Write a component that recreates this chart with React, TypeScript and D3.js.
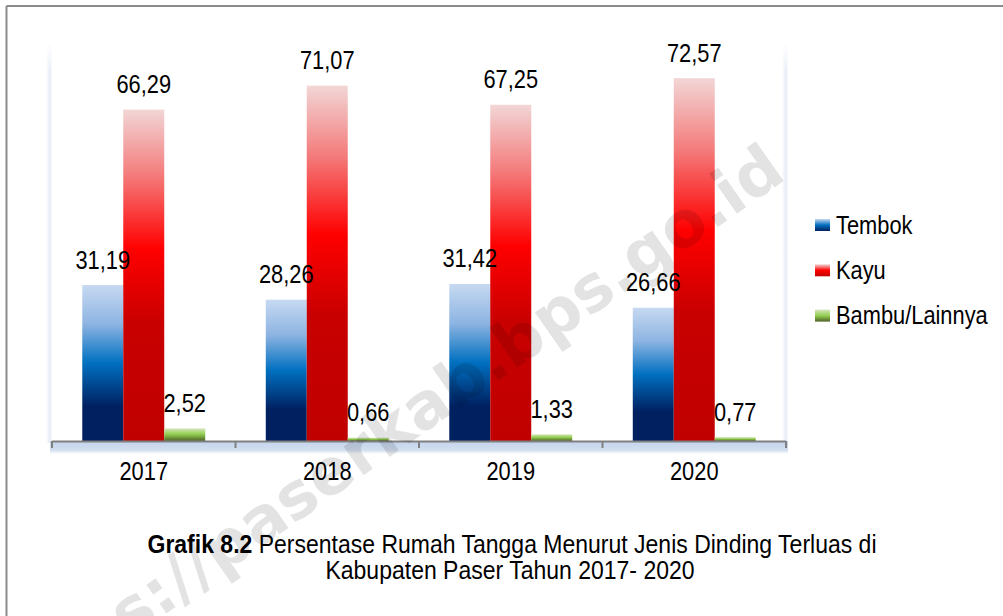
import React from 'react';
import * as d3 from 'd3';

const years = ['2017', '2018', '2019', '2020'];
const seriesNames = ['Tembok', 'Kayu', 'Bambu/Lainnya'];
const tembok = [31.19, 28.26, 31.42, 26.66];
const kayu = [66.29, 71.07, 67.25, 72.57];
const bambu = [2.52, 0.66, 1.33, 0.77];
const yMax = 80;
const titleBold = 'Grafik 8.2';
const titleRest = ' Persentase Rumah Tangga Menurut Jenis Dinding Terluas di';
const titleLine2 = 'Kabupaten Paser Tahun 2017- 2020';
const watermark = 'https://paserkab.bps.go.id';

const W = 1003;
const H = 616;
const plot = { left: 52, right: 786, top: 41, bottom: 441 };
const FONT = "'Liberation Sans', Arial, sans-serif";
const NARROW = 0.84;

const gradients: { id: string; stops: [number, string][] }[] = [
  { id: 'g-tembok', stops: [[0, '#c6d9f1'], [0.25, '#8db4e2'], [0.5, '#0070c0'], [0.78, '#002060'], [1, '#002060']] },
  { id: 'g-kayu', stops: [[0, '#f2d6d6'], [0.2, '#f47a7a'], [0.42, '#ff0000'], [0.65, '#c80000'], [1, '#c00000']] },
  { id: 'g-bambu', stops: [[0, '#d7e4bd'], [0.45, '#92d050'], [1, '#4f6228']] },
];
const legendGradients: { id: string; stops: [number, string][] }[] = [
  { id: 'l-tembok', stops: [[0, '#c6d9f1'], [0.5, '#0070c0'], [1, '#002060']] },
  { id: 'l-kayu', stops: [[0, '#f2d6d6'], [0.5, '#ff0000'], [1, '#c00000']] },
  { id: 'l-bambu', stops: [[0, '#d7e4bd'], [0.5, '#92d050'], [1, '#4f6228']] },
];

const locale = d3.formatLocale({ decimal: ',', thousands: '.', grouping: [3], currency: ['', ''] });
const fmt = locale.format('.2f');

function NText(props: { x: number; y: number; anchor?: string; size: number; sx?: number; children: React.ReactNode }) {
  const { x, y, anchor = 'start', size, sx = NARROW, children } = props;
  return (
    <text
      transform={`translate(${x},${y}) scale(${sx},1)`}
      textAnchor={anchor}
      fontFamily={FONT}
      fontSize={size}
      fill="#000"
    >
      {children}
    </text>
  );
}

export default function App() {
  const values = [tembok, kayu, bambu];
  const x0 = d3.scaleBand<string>().domain(years).range([plot.left, plot.right]).padding(0);
  const bw = x0.bandwidth();
  const x1 = d3.scaleBand<string>().domain(seriesNames).range([bw * 0.165, bw * 0.835]).padding(0);
  const y = d3.scaleLinear().domain([0, yMax]).range([plot.bottom, plot.top]);
  const tickXs = years.map((yr) => x0(yr)!).concat([plot.right]);

  return (
    <svg width={W} height={H} style={{ position: 'absolute', left: 0, top: 0, background: '#fff' }}>
      <defs>
        {gradients.concat(legendGradients).map((g) => (
          <linearGradient key={g.id} id={g.id} x1="0" y1="0" x2="0" y2="1">
            {g.stops.map(([o, c], i) => (
              <stop key={i} offset={o} stopColor={c} />
            ))}
          </linearGradient>
        ))}
        <linearGradient id="wallL" x1="0" y1="0" x2="1" y2="0">
          <stop offset="0" stopColor="#ffffff" />
          <stop offset="0.6" stopColor="#e6ebf6" />
          <stop offset="1" stopColor="#f5f7fb" />
        </linearGradient>
        <linearGradient id="wallFade" x1="0" y1="0" x2="0" y2="1">
          <stop offset="0" stopColor="#fff" stopOpacity="1" />
          <stop offset="0.08" stopColor="#fff" stopOpacity="0" />
        </linearGradient>
        <linearGradient id="floor" x1="0" y1="0" x2="0" y2="1">
          <stop offset="0" stopColor="#c3d4ec" />
          <stop offset="0.7" stopColor="#d2deef" />
          <stop offset="1" stopColor="#ffffff" />
        </linearGradient>
      </defs>
      <rect x={0} y={0} width={W} height={H} fill="#fff" />
      {/* frame */}
      <line x1={6.5} y1={6} x2={W} y2={6} stroke="#8c8c8c" strokeWidth={2} />
      <line x1={6.5} y1={6} x2={6.5} y2={H} stroke="#8c8c8c" strokeWidth={2} />

      {/* walls */}
      <rect x={plot.left - 6} y={plot.top + 2} width={6} height={plot.bottom - plot.top} fill="url(#wallL)" />
      <rect x={plot.right - 4} y={plot.top + 2} width={6} height={plot.bottom - plot.top} fill="url(#wallL)" />
      <rect x={plot.left - 6} y={plot.top + 2} width={6} height={plot.bottom - plot.top} fill="url(#wallFade)" />
      <rect x={plot.right - 4} y={plot.top + 2} width={6} height={plot.bottom - plot.top} fill="url(#wallFade)" />
      {/* floor */}
      <rect x={plot.left - 2} y={plot.bottom} width={plot.right - plot.left + 4} height={13} fill="url(#floor)" />

      {/* bars */}
      {years.map((yr, i) => (
        <g key={yr} transform={`translate(${x0(yr)},0)`}>
          {seriesNames.map((s, j) => {
            const v = values[j][i];
            return (
              <rect
                key={s}
                x={x1(s)}
                y={y(v)}
                width={x1.bandwidth()}
                height={plot.bottom - y(v)}
                fill={`url(#${gradients[j].id})`}
              />
            );
          })}
          {seriesNames.map((s, j) => {
            const v = values[j][i];
            return (
              <NText key={s + 'l'} x={x1(s)! + x1.bandwidth() / 2} y={y(v) - 16.5} anchor="middle" size={26}>
                {fmt(v)}
              </NText>
            );
          })}
        </g>
      ))}

      {/* axis */}
      <line x1={plot.left} y1={plot.bottom + 0.5} x2={plot.right} y2={plot.bottom + 0.5} stroke="#808080" strokeWidth={2} />
      {tickXs.map((tx, i) => (
        <line key={i} x1={tx} y1={plot.bottom} x2={tx} y2={plot.bottom + 7} stroke="#808080" strokeWidth={2} />
      ))}
      {years.map((yr) => (
        <NText key={yr} x={x0(yr)! + bw / 2} y={480} anchor="middle" size={26}>
          {yr}
        </NText>
      ))}

      {/* legend */}
      {seriesNames.map((s, j) => {
        const cy = 225 + j * 45.3;
        return (
          <g key={s}>
            <rect x={815} y={cy - 6} width={15} height={12} fill={`url(#${legendGradients[j].id})`} />
            <NText x={836} y={cy + 8.5} size={26}>
              {s}
            </NText>
          </g>
        );
      })}

      {/* caption */}
      <NText x={512} y={553} anchor="middle" size={25} sx={0.92}>
        <tspan fontWeight="bold">{titleBold}</tspan>
        <tspan>{titleRest}</tspan>
      </NText>
      <NText x={510} y={579} anchor="middle" size={25} sx={0.92}>
        {titleLine2}
      </NText>

      {/* watermark */}
      <text
        x={0}
        y={0}
        transform="translate(788,178) rotate(-35)"
        textAnchor="end"
        fontFamily="'DejaVu Sans', Verdana, sans-serif"
        fontWeight="bold"
        fontSize={64}
        fill="#000"
        fillOpacity={0.11}
      >
        {watermark}
      </text>
    </svg>
  );
}
